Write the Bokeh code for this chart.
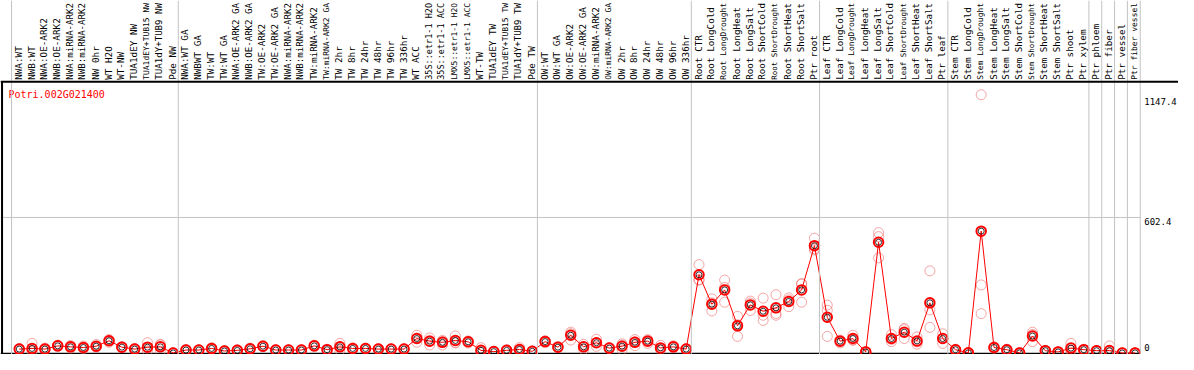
from math import pi
from bokeh.plotting import figure
from bokeh.models import Range1d, Span, ColumnDataSource
from bokeh.core.properties import value
from bokeh.embed import file_html
from bokeh.resources import INLINE

gene = "Potri.002G021400"

samples = [
    "NWA:WT", "NWB:WT", "NWA:OE-ARK2", "NWB:OE-ARK2", "NWA:miRNA-ARK2", "NWB:miRNA-ARK2",
    "NW 0hr", "WT H2O", "WT-NW", "TUA1dEY NW", "TUA1dEY+TUB15 NW", "TUA1dY+TUB9 NW", "Pde NW",
    "NWA:WT GA", "NWBWT GA", "TW:WT", "TW:WT GA", "NWA:OE-ARK2 GA", "NWB:OE-ARK2 GA",
    "TW:OE-ARK2", "TW:OE-ARK2 GA", "NWA:miRNA-ARK2", "NWB:miRNA-ARK2", "TW:miRNA-ARK2",
    "TW:miRNA-ARK2 GA", "TW 2hr", "TW 8hr", "TW 24hr", "TW 48hr", "TW 96hr", "TW 336hr",
    "WT ACC", "35S::etr1-1 H2O", "35S::etr1-1 ACC", "LMX5::etr1-1 H2O", "LMX5::etr1-1 ACC",
    "WT-TW", "TUA1dEY TW", "TUA1dEY+TUB15 TW", "TUA1dY+TUB9 TW", "Pde TW",
    "OW:WT", "OW:WT GA", "OW:OE-ARK2", "OW:OE-ARK2 GA", "OW:miRNA-ARK2", "OW:miRNA-ARK2 GA",
    "OW 2hr", "OW 8hr", "OW 24hr", "OW 48hr", "OW 96hr", "OW 336hr",
    "Root CTR", "Root LongCold", "Root LongDrought", "Root LongHeat", "Root LongSalt",
    "Root ShortCold", "Root ShortDrought", "Root ShortHeat", "Root ShortSalt", "Ptr root",
    "Leaf CTR", "Leaf LongCold", "Leaf LongDrought", "Leaf LongHeat", "Leaf LongSalt",
    "Leaf ShortCold", "Leaf ShortDrought", "Leaf ShortHeat", "Leaf ShortSalt", "Ptr leaf",
    "Stem CTR", "Stem LongCold", "Stem LongDrought", "Stem LongHeat", "Stem LongSalt",
    "Stem ShortCold", "Stem ShortDrought", "Stem ShortHeat", "Stem ShortSalt", "Ptr shoot",
    "Ptr xylem", "Ptr phloem", "Ptr fiber", "Ptr vessel", "Ptr fiber vessel",
]

means = [
    17.7, 20.5, 17.7, 32.0, 27.6, 24.8, 30.5, 54.6, 26.2, 17.7, 26.2, 27.6, 0.5,
    13.5, 13.5, 20.5, 9.2, 12.0, 19.0, 30.5, 13.5, 13.5, 13.5, 32.0, 15.0,
    27.6, 20.5, 20.5, 17.7, 17.7, 17.7, 64.5, 53.0, 47.6, 56.0, 50.0,
    12.0, 6.4, 12.0, 16.0, 7.8,
    50.9, 26.2, 79.0, 27.6, 46.0, 22.0, 30.5, 47.6, 53.0, 23.0, 27.6, 17.7,
    347.7, 217.0, 280.5, 121.0, 214.0, 185.6, 201.0, 229.0, 280.5, 477.0,
    159.0, 53.0, 64.5, 5.0, 492.0, 64.6, 92.7, 53.8, 223.0, 64.6,
    14.9, 1.0, 541.6, 24.7, 14.9, 0.7, 75.7, 10.6, 5.0, 22.0,
    15.0, 10.6, 11.0, 0.3, 0.7,
]

rep1 = [
    20, 43, 22, 35, 34, 31, 38, 60, 28, 21, 46, 39, 0.5,
    16, 14, 24, 11, 15, 22, 33, 15, 14, 15, 35, 17,
    43, 23, 22, 19, 18, 19, 79, 67, 56, 76, 54,
    24, 8, 14, 24, 9,
    55, 29, 93, 39, 61.6, 24, 35, 60, 57, 34, 33, 20,
    393, 241, 324, 163, 231, 244, 259, 236, 309, 510,
    213, 57, 79, 6, 535, 81.6, 109.7, 72, 365, 85.6,
    17, 1.2, 1147.4, 28, 17, 1.0, 92.7, 12, 6, 43,
    17, 11, 32, 0.3, 1.0,
]
rep2 = [
    14, 9, 13, 29, 22, 19, 26, 48, 24, 14, 10, 8, 0.3,
    11, 13, 17, 8, 9, 16, 28, 12, 13, 12, 29, 13,
    12, 18, 19, 16, 17, 16, 48, 36, 36, 47, 45,
    6, 5, 10, 8, 6,
    46, 24, 58, 16, 30, 20, 15, 33, 43, 14, 24, 15,
    326, 187, 226, 74, 189, 145, 168, 206, 226, 463,
    74, 45, 58, 4, 517, 51, 64.6, 39.7, 114, 43,
    12, 0.8, 302.5, 21, 12, 0.5, 51, 9, 4, 12,
    13, 10, 0.5, 0.3, 0.5,
]
rep3 = [
    19, 10, 18, 32, 27, 24, 28, 56, 27, 18, 22, 36, 0.7,
    13, 13, 21, 9, 12, 19, 30, 14, 13, 13, 32, 15,
    28, 21, 20, 18, 18, 18, 66, 56, 51, 45, 51,
    6, 6, 12, 16, 8,
    52, 26, 86, 28, 46, 22, 41, 50, 59, 21, 26, 18,
    324, 223, 291, 126, 222, 168, 176, 245, 306, 458,
    190, 57, 57, 5, 423, 61, 104, 50, 192, 65,
    16, 1.0, 175, 25, 16, 0.6, 83, 11, 5, 11,
    15, 11, 0.5, 0.3, 0.6,
]

# last sample index of each group (vertical separators)
group_ends = [13, 41, 53, 63, 73, 84, 85, 86, 87, 88]

n = len(samples)
idx = list(range(1, n + 1))
vmax = max(rep1 + rep2 + rep3)
top = vmax * 1.05
mid = top / 2

W, H = 1178, 354
XL, XR = -6 / 13, (1194 - 6) / 13
YT = top * (1 + 85 / 283.5)
YB = -top * 1.5 / 283.5

p = figure(width=W, height=H, x_range=Range1d(XL, XR), y_range=Range1d(YB, YT),
           output_backend="svg", toolbar_location=None, min_border=0,
           x_axis_type=None, y_axis_type=None, outline_line_color=None,
           background_fill_color="white", border_fill_color="white")

grey = "#c3c3c3"
for b in [0] + group_ends:
    p.add_layout(Span(location=b + 0.4, dimension="height", line_color=grey, line_width=1))

p.segment(x0=[XL], y0=[mid], x1=[group_ends[-1] + 0.4], y1=[mid], line_color=grey, line_width=1)

# frame lines
p.add_layout(Span(location=top, dimension="width", line_color="black", line_width=2))
p.segment(x0=[XL + 0.12], y0=[YB], x1=[XL + 0.12], y1=[top], line_color="black", line_width=2)
p.segment(x0=[XL], y0=[YB * 0.4], x1=[group_ends[-1] + 0.4], y1=[YB * 0.4],
          line_color="black", line_width=2)

# sample labels (rotated); long ones get a smaller font so that they fit the strip
avail = 77.0
sizes = ["%.2fpx" % min(9.3, avail / (len(s) * 0.602)) for s in samples]
lab_src = ColumnDataSource(dict(x=idx, y=[top] * n, text=samples, size=sizes))
p.text(x="x", y="y", text="text", text_font_size="size", source=lab_src,
       angle=pi / 2, text_align="left", text_baseline="middle", x_offset=-1, y_offset=-2,
       text_font=value("DejaVu Sans Mono"), text_color="black")

# gene name
p.text(x=[XL], y=[top], text=[gene], x_offset=8, y_offset=7, text_baseline="top",
       text_align="left", text_font=value("DejaVu Sans Mono"), text_font_size="10px",
       text_color="#ff0000")

# right-hand value labels
lab_font = dict(text_font=value("DejaVu Sans Mono"), text_font_size="9px",
                text_color="black", text_align="left")
xr = group_ends[-1] + 0.4
p.text(x=[xr], y=[vmax], text=[f"{vmax:.1f}"], x_offset=4, y_offset=3,
       text_baseline="top", **lab_font)
p.text(x=[xr], y=[mid], text=[f"{mid:.1f}"], x_offset=4, y_offset=1,
       text_baseline="top", **lab_font)
p.text(x=[xr], y=[0], text=["0"], x_offset=4, y_offset=-2,
       text_baseline="bottom", **lab_font)

# replicate points
for reps in (rep1, rep2, rep3):
    p.scatter(idx, reps, marker="circle", size=10, fill_color=None,
              line_color="#ee6a6a", line_alpha=0.6, line_width=1)

# mean line and markers
p.line(idx, means, line_color="#ff0000", line_width=1)
p.scatter(idx, means, marker="circle", size=9.5, fill_color=None,
          line_color="#ff0000", line_width=2)
p.scatter(idx, means, marker="circle", size=6, fill_color=None,
          line_color="black", line_width=0.8)

open("out.html", "w").write(file_html(p, INLINE))
